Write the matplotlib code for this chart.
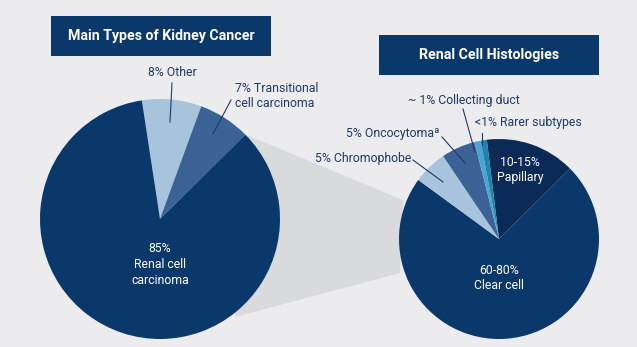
import matplotlib.pyplot as plt
from matplotlib.patches import Polygon, Rectangle

plt.rcParams['font.family'] = ['Roboto', 'DejaVu Sans']

# main types of kidney cancer (%)
main_labels = ["8% Other", "7% Transitional\ncell carcinoma", "85%\nRenal cell\ncarcinoma"]
main_values = [8, 7, 85]
main_colors = ["#a8c4dc", "#3b6294", "#0a386a"]

# renal cell histologies (%)
rcc_labels = ["10-15%\nPapillary", "60-80%\nClear cell", "5% Chromophobe",
              "5% Oncocytoma\u00aa", "~ 1% Collecting duct", "<1% Rarer subtypes"]
rcc_values = [14.5, 72.5, 5.5, 5.5, 1, 1]
rcc_colors = ["#0b2a56", "#0a386a", "#a8c4dc", "#3b6294", "#4ea3d6", "#1b86ab"]

BG = "#ececee"
NAVY = "#0a386a"
TXT = "#1e3a66"
H = 347
FS = 8.8

fig = plt.figure(figsize=(6.37, 3.47), dpi=100, facecolor=BG)
ax = fig.add_axes([0, 0, 1, 1])
ax.set_facecolor(BG)

# funnel between the pies
ax.add_patch(Polygon([(247, H - 135), (403, H - 200), (400, H - 273), (235, H - 317)],
                     closed=True, facecolor="#d9dadc", edgecolor="none", zorder=0))

ax.pie(main_values, colors=main_colors, startangle=98.7, counterclock=False,
       center=(160, H - 219), radius=120, wedgeprops=dict(linewidth=0))
ax.pie(rcc_values, colors=rcc_colors, startangle=97, counterclock=False,
       center=(499, H - 239), radius=100, wedgeprops=dict(linewidth=0))

ax.set_xlim(0, 637)
ax.set_ylim(0, H)
ax.set_aspect('auto')
ax.axis('off')

# title boxes
ax.add_patch(Rectangle((51, H - 56), 220, 40, facecolor=NAVY, edgecolor="none"))
ax.text(161, H - 36, "Main Types of Kidney Cancer", color="white", fontsize=10.2,
        fontweight="bold", ha="center", va="center")
ax.add_patch(Rectangle((379, H - 75), 220, 40, facecolor=NAVY, edgecolor="none"))
ax.text(489, H - 55, "Renal Cell Histologies", color="white", fontsize=10.2,
        fontweight="bold", ha="center", va="center")

# labels inside
ax.text(160, H - 265, main_labels[2], color="white", fontsize=FS, ha="center",
        va="center", linespacing=1.3)
ax.text(520, H - 170, rcc_labels[0], color="white", fontsize=FS, ha="center",
        va="center", linespacing=1.2)
ax.text(499, H - 278, rcc_labels[1], color="white", fontsize=FS, ha="center",
        va="center", linespacing=1.2)

# outside labels with leader lines
ax.text(172, H - 72, main_labels[0], color=TXT, fontsize=FS, ha="center", va="center")
ax.plot([172, 170], [H - 83, H - 122], color=TXT, lw=0.8)
ax.text(235, H - 96, main_labels[1], color=TXT, fontsize=FS, ha="left", va="center",
        linespacing=1.2)
ax.plot([231, 213], [H - 100, H - 134], color=TXT, lw=0.8)

ax.text(408, H - 100, rcc_labels[4], color=TXT, fontsize=FS, ha="left", va="center")
ax.plot([463, 475], [H - 109, H - 152], color=TXT, lw=0.8)
ax.text(475, H - 122, rcc_labels[5], color=TXT, fontsize=FS, ha="left", va="center")
ax.plot([482, 482], [H - 133, H - 145], color=TXT, lw=0.8)
ax.text(346, H - 133, rcc_labels[3], color=TXT, fontsize=FS, ha="left", va="center")
ax.plot([442, 465], [H - 137, H - 163], color=TXT, lw=0.8)
ax.text(411, H - 158, rcc_labels[2], color=TXT, fontsize=FS, ha="right", va="center")
ax.plot([413, 443], [H - 160, H - 182], color=TXT, lw=0.8)

fig.savefig("out.png", dpi=100, facecolor=BG)
